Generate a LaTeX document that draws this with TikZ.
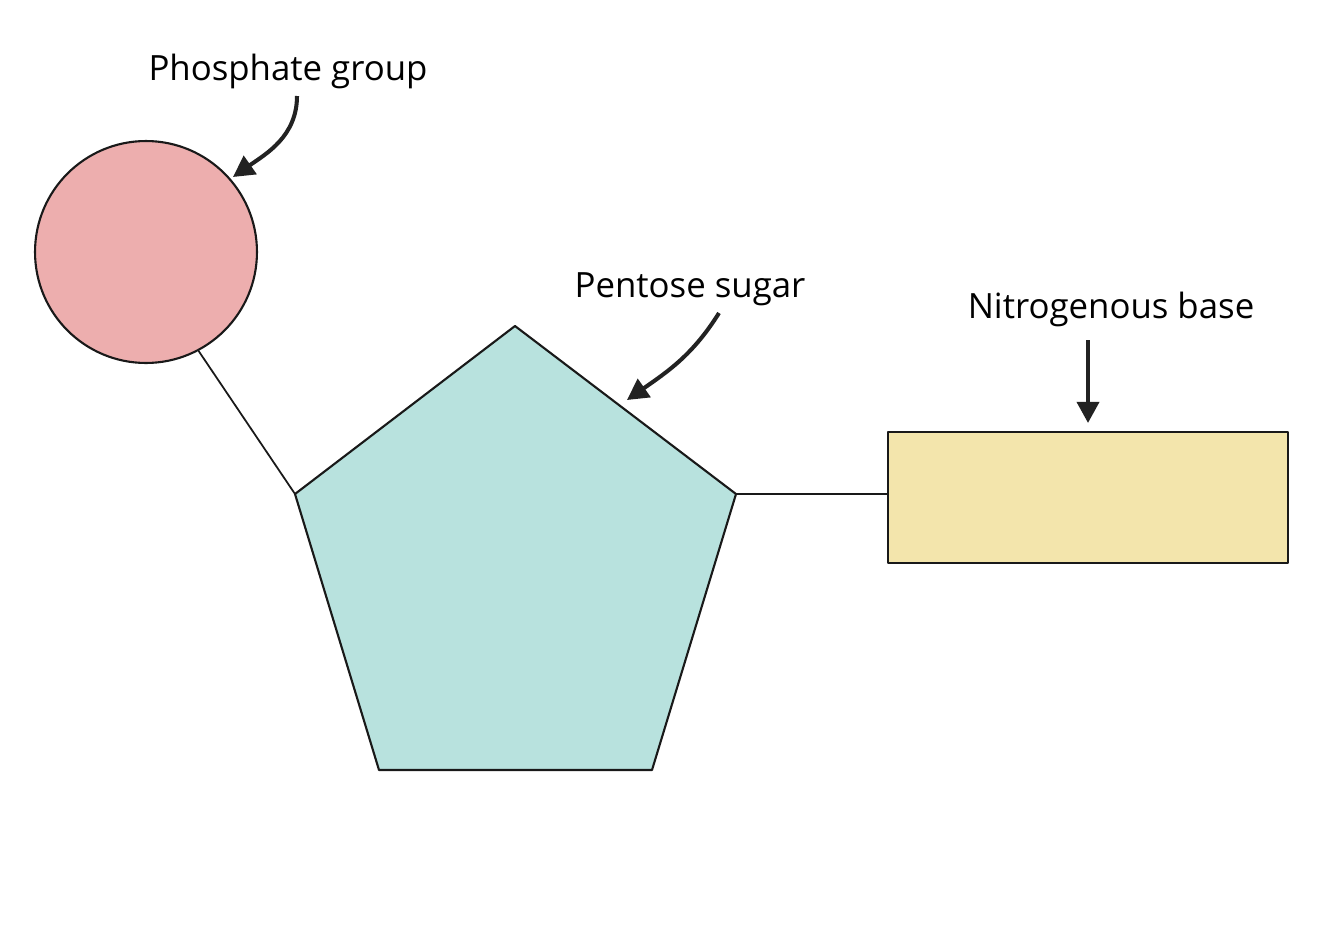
\documentclass[tikz,border=0pt]{standalone}
\usepackage{fontspec}
\setmainfont{Open Sans}
\usetikzlibrary{arrows.meta}
\definecolor{phospink}{HTML}{EDAEAE}
\definecolor{sugarcyan}{HTML}{B8E2DE}
\definecolor{baseyellow}{HTML}{F3E5AC}
\definecolor{inkgray}{HTML}{222222}
\begin{document}
\begin{tikzpicture}[x=0.02cm, y=-0.02cm, line join=round,
    part/.style={draw=black!90, line width=1.2pt, inner sep=0pt},
    bond/.style={draw=black!90, line width=1pt},
    pointer/.style={draw=inkgray, line width=2.3pt, -{Triangle[length=12pt, width=12.5pt]}},
    tag/.style={font=\fontsize{19.8}{22}\selectfont, anchor=base, inner sep=0pt}]
  \useasboundingbox (0,0) rectangle (1334,933);
  % phosphate
  \node[part, circle, fill=phospink, minimum size=4.44cm] (phos) at (146,252) {};
  % pentose sugar
  \coordinate (pT) at (515,326);
  \coordinate (pR) at (736,494);
  \coordinate (pBR) at (652,770);
  \coordinate (pBL) at (379,770);
  \coordinate (pL) at (295,494);
  \draw[part, fill=sugarcyan] (pT) -- (pR) -- (pBR) -- (pBL) -- (pL) -- cycle;
  % nitrogenous base
  \node[part, rectangle, fill=baseyellow, minimum width=8cm, minimum height=2.62cm] (base) at (1088,497.5) {};
  % bonds
  \draw[bond] (phos.-62) -- (pL);
  \draw[bond] (pR) -- (pR -| base.west);
  % labels
  \node[tag] (phosLabel) at (288,80) {Phosphate group};
  \node[tag] (sugarLabel) at (690,297) {Pentose sugar};
  \node[tag] (baseLabel) at (1111,318) {Nitrogenous base};
  % pointers
  \coordinate (phosTail) at (297,96);
  \coordinate (phosTip) at (233,177);
  \coordinate (sugarTail) at (719,313);
  \coordinate (sugarTip) at (627,400);
  \coordinate (baseTail) at (1088,340);
  \draw[pointer] (phosTail) to[out=-90, in=35] (phosTip);
  \draw[pointer] (sugarTail) to[out=-122, in=35] (sugarTip);
  \draw[pointer] (baseTail) -- ([yshift=0.16cm]base.north);
\end{tikzpicture}
\end{document}
